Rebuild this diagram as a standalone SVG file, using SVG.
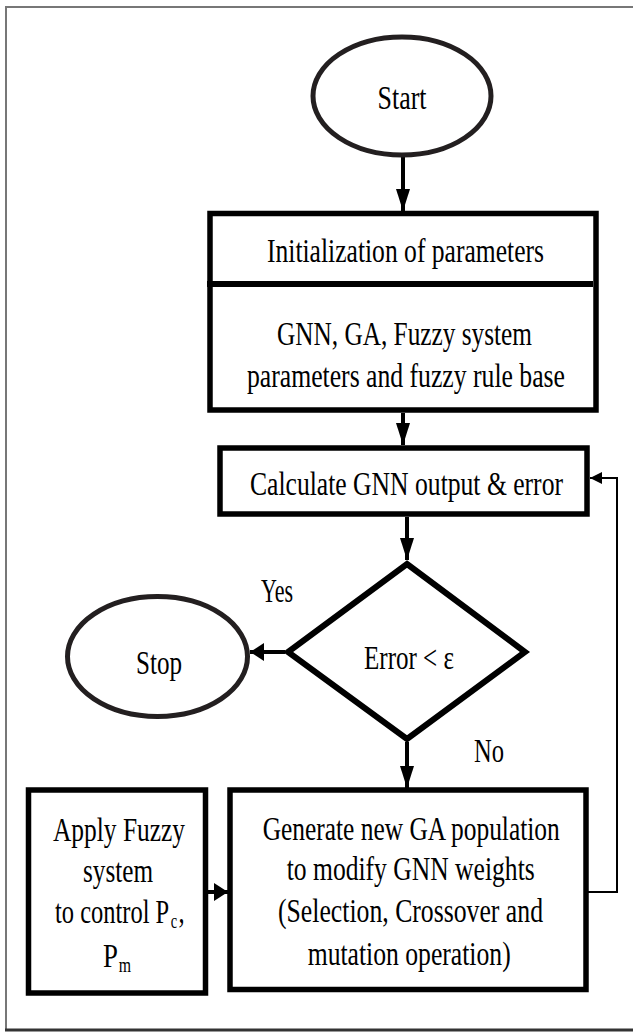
<svg xmlns="http://www.w3.org/2000/svg" width="633" height="1034" viewBox="0 0 633 1034">
<style>
.t{font-family:"Liberation Serif","Times New Roman",serif;font-size:34px;fill:#000}
.sub{font-size:20px}
.box{fill:#fff;stroke:#000;stroke-width:5.5}
.ell{fill:#fff;stroke:#231f20;stroke-width:5}
.con{fill:none;stroke:#000;stroke-width:4}
.fb{fill:none;stroke:#000;stroke-width:2}
</style>
<defs>
<marker id="ah" markerUnits="userSpaceOnUse" markerWidth="22" markerHeight="14" refX="22" refY="7" orient="auto"><path d="M0,0 L22,7 L0,14 z" fill="#000"/></marker>
<marker id="ahs" markerUnits="userSpaceOnUse" markerWidth="14" markerHeight="18" refX="14" refY="9" orient="auto"><path d="M0,0 L14,9 L0,18 z" fill="#000"/></marker>
<marker id="ahf" markerUnits="userSpaceOnUse" markerWidth="12" markerHeight="12" refX="12" refY="6" orient="auto"><path d="M0,0 L12,6 L0,12 z" fill="#000"/></marker>
</defs>
<rect width="633" height="1034" fill="#fff"/>
<g id="frame">
<path d="M640,7 L6,7 L6,1030" fill="none" stroke="#777" stroke-width="2"/>
<path d="M5,1030 L640,1030" fill="none" stroke="#333" stroke-width="3"/>
</g>
<g id="connectors">
<path class="con" d="M403,155 L403,211" marker-end="url(#ah)"/>
<path class="con" d="M403,413 L403,445" marker-end="url(#ah)"/>
<path class="con" d="M407,517 L407,560" marker-end="url(#ah)"/>
<path class="con" d="M285,652 L250,652" marker-end="url(#ahs)"/>
<path class="con" d="M407,742 L407,788" marker-end="url(#ah)"/>
<path class="con" d="M208,892 L228,892" stroke-width="5" marker-end="url(#ahs)"/>
<path class="fb" d="M588,892 L617,892 L617,478 L590,478" marker-end="url(#ahf)"/>
</g>
<g id="start">
<ellipse class="ell" cx="402" cy="96" rx="89" ry="59"/>
<g transform="scale(0.8 1)">
<text class="t" x="471.875" y="109" textLength="61.25" lengthAdjust="spacingAndGlyphs">Start</text>
</g>
</g>
<g id="init">
<rect class="box" x="210" y="213.5" width="386" height="196.5"/>
<line x1="207" y1="284" x2="593" y2="284" stroke="#000" stroke-width="6"/>
<g transform="scale(0.8 1)">
<text class="t" x="333.75" y="262" textLength="346.25" lengthAdjust="spacingAndGlyphs">Initialization of parameters</text>
<text class="t" x="346.25" y="345" textLength="318.75" lengthAdjust="spacingAndGlyphs">GNN, GA, Fuzzy system</text>
<text class="t" x="308.75" y="387" textLength="397.5" lengthAdjust="spacingAndGlyphs">parameters and fuzzy rule base</text>
</g>
</g>
<g id="calc">
<rect class="box" x="220" y="448" width="367" height="66"/>
<g transform="scale(0.8 1)">
<text class="t" x="312.5" y="495" textLength="391.25" lengthAdjust="spacingAndGlyphs">Calculate GNN output &amp; error</text>
</g>
</g>
<g id="decision">
<polygon points="407,564 525,652 407,739 288,652" fill="#fff" stroke="#000" stroke-width="6" stroke-linejoin="miter"/>
<g transform="scale(0.8 1)">
<text class="t" x="455" y="669" textLength="112.5" lengthAdjust="spacingAndGlyphs">Error &lt; ε</text>
</g>
</g>
<g id="labels">
<g transform="scale(0.8 1)">
<text class="t" x="326.25" y="602" textLength="40" lengthAdjust="spacingAndGlyphs">Yes</text>
<text class="t" x="592.5" y="762" textLength="37.5" lengthAdjust="spacingAndGlyphs">No</text>
</g>
</g>
<g id="stop">
<ellipse class="ell" cx="157.5" cy="656.5" rx="90" ry="60"/>
<g transform="scale(0.8 1)">
<text class="t" x="170" y="674" textLength="57.5" lengthAdjust="spacingAndGlyphs">Stop</text>
</g>
</g>
<g id="fuzzy">
<rect class="box" x="28.5" y="790" width="177" height="203"/>
<g transform="scale(0.8 1)">
<text class="t" x="66.25" y="841" textLength="165" lengthAdjust="spacingAndGlyphs">Apply Fuzzy</text>
<text class="t" x="103.75" y="882" textLength="87.5" lengthAdjust="spacingAndGlyphs">system</text>
<text class="t" x="68.75" y="923" textLength="162" lengthAdjust="spacingAndGlyphs">to control P<tspan class="sub" dx="2" dy="5">c</tspan><tspan dx="2" dy="-5">,</tspan></text>
<text class="t" x="128.75" y="967" textLength="35" lengthAdjust="spacingAndGlyphs">P<tspan class="sub" dx="1" dy="5">m</tspan></text>
</g>
</g>
<g id="generate">
<rect class="box" x="230" y="790" width="356" height="199.5"/>
<g transform="scale(0.8 1)">
<text class="t" x="328.4" y="840" textLength="371.25" lengthAdjust="spacingAndGlyphs">Generate new GA population</text>
<text class="t" x="358.4" y="880" textLength="310" lengthAdjust="spacingAndGlyphs">to modify GNN weights</text>
<text class="t" x="347.5" y="922" textLength="331.25" lengthAdjust="spacingAndGlyphs">(Selection, Crossover and</text>
<text class="t" x="384.6" y="965" textLength="253.75" lengthAdjust="spacingAndGlyphs">mutation operation)</text>
</g>
</g>
</svg>
